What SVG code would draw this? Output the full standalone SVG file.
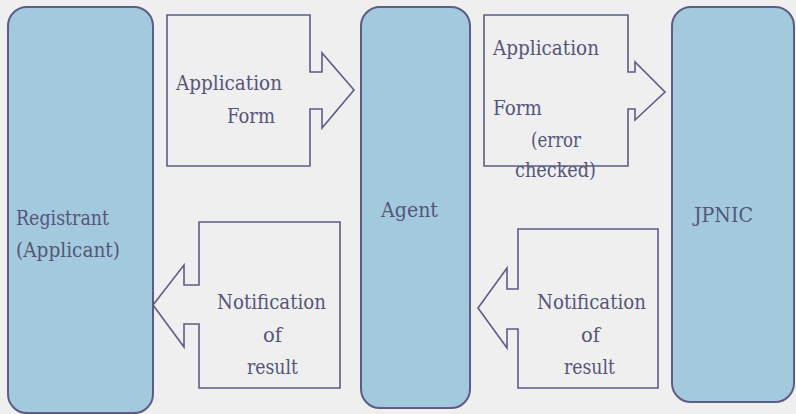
<svg xmlns="http://www.w3.org/2000/svg" width="796" height="414" viewBox="0 0 796 414">
<style>
.box{fill:#a3c9dc;stroke:#5c5c86;stroke-width:2}
.arrow{fill:none;stroke:#5c5c86;stroke-width:1.6}
.t{font-family:'DejaVu Serif','Liberation Serif',serif;font-size:20px;fill:#55557a}
</style>
<rect width="796" height="414" fill="#efefef"/>
<g id="registrant">
<rect class="box" x="8" y="7" width="145" height="406" rx="19" ry="19"/>
<text class="t" x="16" y="225" textLength="93" lengthAdjust="spacingAndGlyphs">Registrant</text>
<text class="t" x="16" y="257" textLength="104" lengthAdjust="spacingAndGlyphs">(Applicant)</text>
</g>
<g id="agent">
<rect class="box" x="361" y="7" width="109" height="401" rx="19" ry="19"/>
<text class="t" x="381" y="217" textLength="57" lengthAdjust="spacingAndGlyphs">Agent</text>
</g>
<g id="jpnic">
<rect class="box" x="672" y="7" width="122" height="395" rx="19" ry="19"/>
<text class="t" x="694" y="222" textLength="59" lengthAdjust="spacingAndGlyphs">JPNIC</text>
</g>
<g id="connectors">
<g id="app-form-1">
<path class="arrow" d="M167,15 H310 V72 H322 V53 L354,90 L322,128 V109 H310 V166 H167 Z"/>
<text class="t" x="176" y="90" textLength="106" lengthAdjust="spacingAndGlyphs">Application</text>
<text class="t" x="227" y="123" textLength="48" lengthAdjust="spacingAndGlyphs">Form</text>
</g>
<g id="app-form-2">
<path class="arrow" d="M484,15 H628 V72 H635 V62 L665,92 L635,120 V109 H628 V166 H484 Z"/>
<text class="t" x="493" y="55" textLength="106" lengthAdjust="spacingAndGlyphs">Application</text>
<text class="t" x="493" y="115" textLength="49" lengthAdjust="spacingAndGlyphs">Form</text>
<text class="t" x="531" y="147" textLength="50" lengthAdjust="spacingAndGlyphs">(error</text>
<text class="t" x="515" y="177" textLength="81" lengthAdjust="spacingAndGlyphs">checked)</text>
</g>
<g id="notif-1">
<path class="arrow" d="M199,222 H340 V388 H199 V324 H184 V347 L153,305 L184,265 V285 H199 Z"/>
<text class="t" x="217" y="309" textLength="109" lengthAdjust="spacingAndGlyphs">Notification</text>
<text class="t" x="263" y="342" textLength="19" lengthAdjust="spacingAndGlyphs">of</text>
<text class="t" x="247" y="374" textLength="51" lengthAdjust="spacingAndGlyphs">result</text>
</g>
<g id="notif-2">
<path class="arrow" d="M518,229 H658 V388 H518 V329 H507 V348 L478,308 L507,268 V289 H518 Z"/>
<text class="t" x="537" y="309" textLength="109" lengthAdjust="spacingAndGlyphs">Notification</text>
<text class="t" x="581" y="342" textLength="19" lengthAdjust="spacingAndGlyphs">of</text>
<text class="t" x="564" y="374" textLength="51" lengthAdjust="spacingAndGlyphs">result</text>
</g>
</g>
</svg>
